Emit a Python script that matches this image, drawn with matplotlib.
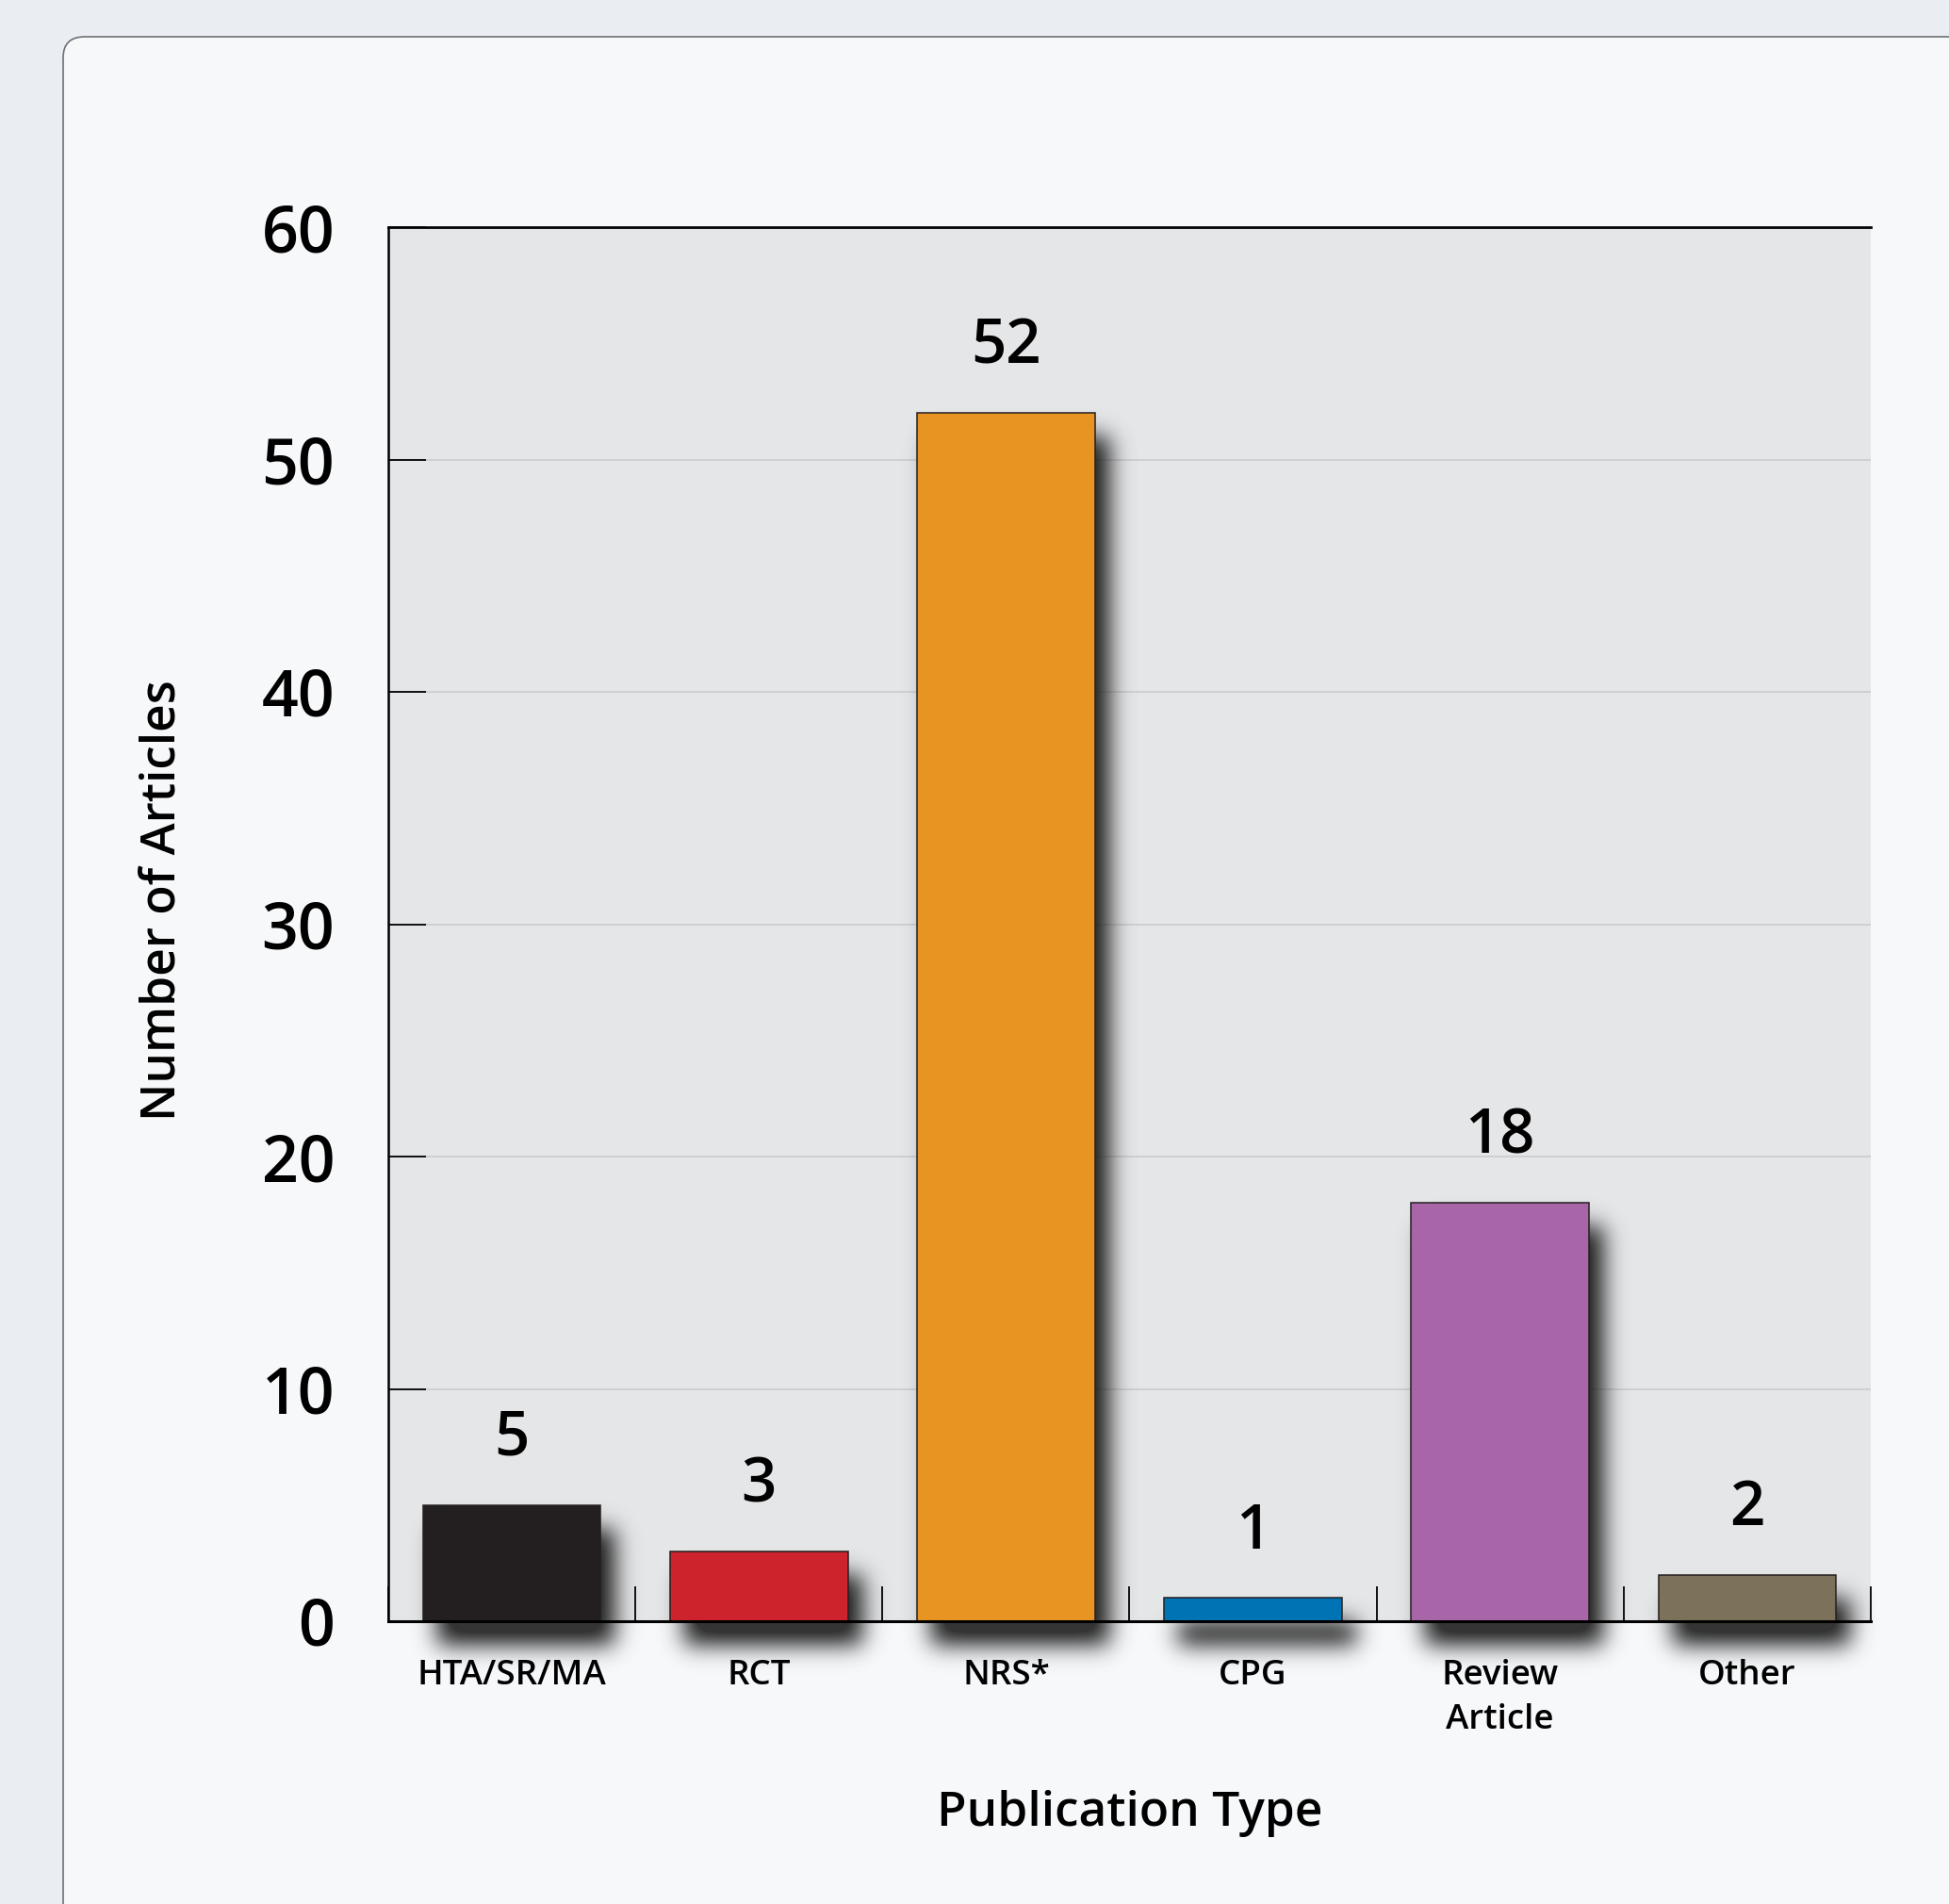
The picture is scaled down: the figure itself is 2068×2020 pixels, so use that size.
import numpy as np
import matplotlib
matplotlib.use("Agg")
import matplotlib.pyplot as plt
from matplotlib.patches import FancyBboxPatch

plt.rcParams['font.family'] = ['Open Sans', 'DejaVu Sans']

# data
categories = ["HTA/SR/MA", "RCT", "NRS*", "CPG", "Review\nArticle", "Other"]
counts = [5, 3, 52, 1, 18, 2]
bar_colors = ['#231f20', '#cc232c', '#e89423', '#0073b4', '#a866a9', '#7c7159']
y_ticks = [0, 10, 20, 30, 40, 50, 60]

W, H = 2068, 2020
fig = plt.figure(figsize=(W / 100, H / 100), dpi=100, facecolor='#eaeef2')

# background card with rounded corner
bg = fig.add_axes([0, 0, 1, 1], zorder=-1)
bg.set_xlim(0, 1)
bg.set_ylim(0, 1)
bg.axis('off')
card_x = 67 / W
card_top = 1 - 39 / H
card = FancyBboxPatch((card_x, -0.05), 1.2 - card_x, card_top + 0.05,
                      boxstyle="round,pad=0,rounding_size=0.011",
                      facecolor='#f6f8fa', edgecolor='#6e7074', lw=1.2)
bg.add_patch(card)
gx = np.linspace(0, 1, 200)
gy = np.linspace(0, 1, 200)
gxx, gyy = np.meshgrid(gx, gy)
t = np.clip(0.5 * gxx + 0.5 * (1 - gyy), 0, 1)
c0 = np.array([248, 249, 250]) / 255
c1 = np.array([240, 243, 247]) / 255
grad = c0[None, None, :] * (1 - t[..., None]) + c1[None, None, :] * t[..., None]
im = bg.imshow(grad, extent=(0, 1, 0, 1), origin='upper', aspect='auto', zorder=0.5)
im.set_clip_path(card)
bg.set_xlim(0, 1)
bg.set_ylim(0, 1)

# main axes
left, right, top, bottom = 412, 1985, 241, 1720
ax = fig.add_axes([left / W, 1 - bottom / H, (right - left) / W, (bottom - top) / H])
ax.set_facecolor('#e5e6e8')
x = np.arange(len(categories))
bw = 0.72
ax.set_xlim(-0.5, len(categories) - 0.5)
ax.set_ylim(0, 60)

# blurred drop shadows behind bars
mask = np.zeros((H, W))
dx, dy = 15, 25
for xi, v in zip(x, counts):
    x0, y0 = ax.transData.transform((xi - bw / 2, 0))
    x1, y1 = ax.transData.transform((xi + bw / 2, v))
    mask[int(round(y0 - dy)):int(round(y1 - dy)), int(round(x0 + dx)):int(round(x1 + dx))] = 1
sig = 12
fy = np.fft.fftfreq(H)[:, None]
fx = np.fft.rfftfreq(W)[None, :]
blur = np.fft.irfft2(np.fft.rfft2(mask) * np.exp(-2 * np.pi ** 2 * sig ** 2 * (fx ** 2 + fy ** 2)), s=mask.shape)
shadow = np.zeros((H, W, 4))
shadow[..., :3] = 0.12
shadow[..., 3] = np.clip(blur * 1.15, 0, 1) * 0.9
ax.imshow(shadow, extent=(0, 1, 0, 1), transform=fig.transFigure, origin='lower',
          aspect='auto', interpolation='nearest', zorder=1, clip_on=False)

ax.bar(x, counts, width=bw, color=bar_colors, edgecolor='#231f20', linewidth=1.1, zorder=2)
for xi, v in zip(x, counts):
    ax.annotate(str(v), (xi, v), xytext=(0, 38), textcoords='offset points',
                ha='center', va='baseline', fontsize=47, fontweight='semibold')

ax.set_xlim(-0.5, len(categories) - 0.5)
ax.set_ylim(0, 60)

# axes styling
ax.set_axisbelow(True)
ax.yaxis.grid(True, color='#cfd0d2', linewidth=1.4)
ax.set_yticks(y_ticks)
ax.tick_params(axis='y', direction='in', length=29, width=1.3, pad=41,
               labelsize=49, color='black')
for lab in ax.get_yticklabels():
    lab.set_fontweight('semibold')
ax.set_xticks(np.arange(len(categories) + 1) - 0.5)
ax.set_xticklabels([])
ax.tick_params(axis='x', which='major', direction='in', length=27, width=1.3, color='black')
ax.set_xticks(x, minor=True)
ax.set_xticklabels(categories, minor=True, fontsize=26.5, linespacing=1.4, fontweight='semibold')
ax.tick_params(axis='x', which='minor', length=0, pad=29)
ax.spines['right'].set_visible(False)
ax.spines['left'].set_linewidth(1.8)
ax.spines['bottom'].set_linewidth(2.2)
ax.spines['top'].set_linewidth(2.0)

ax.set_xlabel("Publication Type", fontsize=37, fontweight='semibold', labelpad=40)
ax.set_ylabel("Number of Articles", fontsize=37, va='center', fontweight='semibold')
ax.yaxis.set_label_coords((172 - left) / (right - left), (bottom - 955) / (bottom - top))

plt.savefig("out.png", dpi=100, facecolor=fig.get_facecolor())
